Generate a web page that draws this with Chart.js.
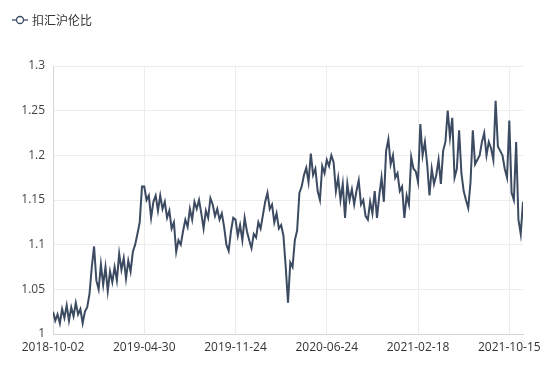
<!DOCTYPE html>
<html>
<head>
<meta charset="utf-8">
<script src="https://cdn.jsdelivr.net/npm/chart.js@4.4.1/dist/chart.umd.min.js"></script>
<style>
  html, body { margin: 0; padding: 0; background: #fff; }
  #wrap { width: 550px; height: 378px; }
</style>
</head>
<body>
<div id="wrap"><canvas id="grafica"></canvas></div>
<script>
// 扣汇沪伦比, sampled ~40 points between each labelled date
const seriesName = '扣汇沪伦比';
const tickLabels = ['2018-10-02', '2019-04-30', '2019-11-24', '2020-06-24', '2021-02-18', '2021-10-15'];
const pointsPerTick = 40;

const ratio2018 = [
    1.025, 1.015, 1.022, 1.012, 1.028, 1.018, 1.032, 1.015, 1.030, 1.020,
    1.035, 1.022, 1.028, 1.012, 1.025, 1.030, 1.045, 1.075, 1.098, 1.060,
    1.050, 1.078, 1.055, 1.075, 1.048, 1.070, 1.058, 1.075, 1.060, 1.090,
    1.072, 1.085, 1.062, 1.082, 1.070, 1.092, 1.100, 1.112, 1.125, 1.165
];
const ratio2019 = [
    1.165, 1.150, 1.155, 1.130, 1.148, 1.155, 1.138, 1.155, 1.140, 1.148,
    1.130, 1.138, 1.118, 1.125, 1.092, 1.105, 1.100, 1.115, 1.128, 1.120,
    1.140, 1.128, 1.148, 1.140, 1.150, 1.135, 1.118, 1.138, 1.130, 1.152,
    1.145, 1.132, 1.140, 1.128, 1.135, 1.120, 1.100, 1.093, 1.115, 1.130
];
const ratio2020a = [
    1.128, 1.110, 1.122, 1.105, 1.130, 1.115, 1.105, 1.096, 1.112, 1.108,
    1.125, 1.118, 1.133, 1.148, 1.158, 1.140, 1.145, 1.125, 1.135, 1.118,
    1.122, 1.110, 1.075, 1.035, 1.080, 1.075, 1.105, 1.116, 1.158, 1.165,
    1.178, 1.186, 1.170, 1.202, 1.178, 1.185, 1.160, 1.150, 1.188, 1.180
];
const ratio2020b = [
    1.195, 1.188, 1.200, 1.192, 1.160, 1.175, 1.150, 1.168, 1.130, 1.168,
    1.150, 1.162, 1.145, 1.160, 1.172, 1.145, 1.150, 1.132, 1.128, 1.148,
    1.135, 1.160, 1.130, 1.155, 1.175, 1.148, 1.205, 1.218, 1.190, 1.200,
    1.175, 1.180, 1.160, 1.165, 1.130, 1.155, 1.145, 1.198, 1.185, 1.182
];
const ratio2021 = [
    1.170, 1.235, 1.200, 1.215, 1.190, 1.155, 1.185, 1.168, 1.178, 1.195,
    1.168, 1.205, 1.215, 1.250, 1.220, 1.242, 1.175, 1.185, 1.228, 1.180,
    1.160, 1.150, 1.141, 1.170, 1.228, 1.190, 1.195, 1.200, 1.215, 1.225,
    1.200, 1.215, 1.208, 1.195, 1.261, 1.210, 1.205, 1.200, 1.185, 1.175
];
const ratioLast = [1.239, 1.158, 1.150, 1.215, 1.128, 1.112, 1.148];

const ratio = [].concat(ratio2018, ratio2019, ratio2020a, ratio2020b, ratio2021, ratioLast);

const lineColor = '#3c4b61';

// legend icon: line through a hollow circle
const icono = document.createElement('canvas');
icono.width = 16;
icono.height = 10;
(function () {
    const c = icono.getContext('2d');
    c.strokeStyle = lineColor;
    c.lineWidth = 1.3;
    c.beginPath();
    c.moveTo(0, 5);
    c.lineTo(16, 5);
    c.stroke();
    c.beginPath();
    c.arc(8, 5, 3.5, 0, Math.PI * 2);
    c.fillStyle = '#fff';
    c.fill();
    c.stroke();
})();

// leave room under the legend
const espacioLeyenda = {
    id: 'espacioLeyenda',
    beforeInit: function (chart) {
        const fitOriginal = chart.legend.fit;
        chart.legend.fit = function () {
            fitOriginal.bind(chart.legend)();
            this.height += 30;
        };
    }
};

const ctx = document.getElementById('grafica').getContext('2d');
new Chart(ctx, {
    type: 'line',
    data: {
        datasets: [{
            label: seriesName,
            data: ratio.map((v, i) => ({ x: i, y: v })),
            borderColor: lineColor,
            backgroundColor: lineColor,
            borderWidth: 2,
            pointRadius: 0,
            pointStyle: icono,
            tension: 0
        }]
    },
    options: {
        responsive: true,
        maintainAspectRatio: false,
        animation: false,
        layout: { padding: { top: 4, right: 27, left: 4, bottom: 0 } },
        plugins: {
            legend: {
                display: true,
                position: 'top',
                align: 'start',
                labels: {
                    usePointStyle: true,
                    boxWidth: 16,
                    boxHeight: 10,
                    padding: 10,
                    color: '#333',
                    font: { family: '"Noto Sans CJK SC", "Noto Sans", sans-serif', size: 12 }
                }
            },
            tooltip: { enabled: false }
        },
        scales: {
            x: {
                type: 'linear',
                min: 0,
                max: ratio.length - 1,
                afterBuildTicks: function (scale) {
                    scale.ticks = tickLabels.map((_, i) => ({ value: i * pointsPerTick }));
                },
                afterFit: function (scale) { scale.height = 44; },
                ticks: {
                    autoSkip: false,
                    maxRotation: 0,
                    padding: 6,
                    color: '#333',
                    font: { family: '"Open Sans", "Noto Sans", sans-serif', size: 12 },
                    callback: function (value) {
                        return tickLabels[Math.round(value / pointsPerTick)];
                    }
                },
                grid: { color: '#ececec', drawTicks: false },
                border: { color: '#d6d6d6' }
            },
            y: {
                min: 1,
                max: 1.3,
                afterFit: function (scale) { scale.width = 49; },
                ticks: {
                    stepSize: 0.05,
                    padding: 8,
                    color: '#444',
                    font: { family: '"Open Sans", "Noto Sans", sans-serif', size: 12 },
                    callback: function (value) {
                        return String(parseFloat(value.toFixed(2)));
                    }
                },
                grid: { color: '#ececec', drawTicks: false },
                border: { color: '#d6d6d6' }
            }
        }
    },
    plugins: [espacioLeyenda]
});
</script>
</body>
</html>
